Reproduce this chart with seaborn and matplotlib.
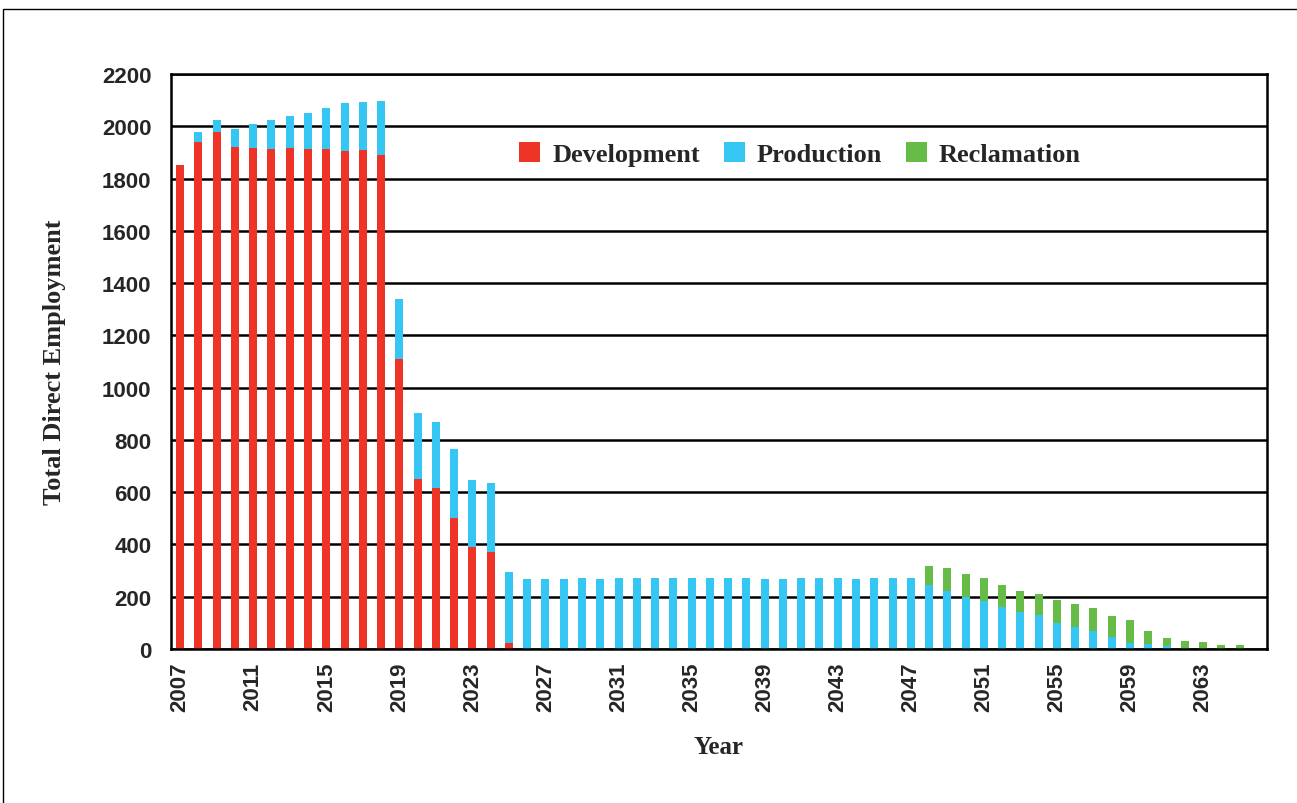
import pandas as pd
import matplotlib.pyplot as plt
import seaborn as sns
from matplotlib.patches import Patch, Rectangle

# values (employees per year)
years = list(range(2007, 2067))
development = [1852, 1940, 1978, 1921, 1918, 1913, 1918, 1912, 1913, 1906,
               1909, 1889, 1110, 650, 615, 500, 390, 370, 23, 0,
               0, 0, 0, 0, 0, 0, 0, 0, 0, 0,
               0, 0, 0, 0, 0, 0, 0, 0, 0, 0,
               0, 0, 0, 0, 0, 0, 0, 0, 0, 0,
               0, 0, 0, 0, 0, 0, 0, 0, 0, 0]
production = [0, 38, 47, 67, 91, 112, 122, 139, 157, 183,
              185, 208, 230, 254, 255, 265, 255, 267, 272, 267,
              267, 267, 271, 267, 271, 271, 271, 271, 271, 271,
              271, 271, 267, 267, 271, 271, 271, 267, 271, 271,
              271, 243, 223, 199, 183, 159, 143, 132, 100, 84,
              67, 47, 23, 19, 11, 0, 0, 0, 0, 0]
reclamation = [0, 0, 0, 0, 0, 0, 0, 0, 0, 0,
               0, 0, 0, 0, 0, 0, 0, 0, 0, 0,
               0, 0, 0, 0, 0, 0, 0, 0, 0, 0,
               0, 0, 0, 0, 0, 0, 0, 0, 0, 0,
               0, 76, 88, 88, 88, 84, 80, 79, 87, 87,
               88, 80, 88, 48, 32, 31, 27, 15, 15, 0]

series_names = ['Development', 'Production', 'Reclamation']
colors = {'Development': '#EE3327', 'Production': '#36C6F4', 'Reclamation': '#67BB47'}

df = pd.DataFrame({'Year': [str(y) for y in years],
                   'Development': development,
                   'Production': production,
                   'Reclamation': reclamation})
# cumulative heights for stacking
df['DevProd'] = df['Development'] + df['Production']
df['Total'] = df['DevProd'] + df['Reclamation']

sns.set_style('white')
plt.rcParams['font.family'] = ['Liberation Sans', 'DejaVu Sans']

fig = plt.figure(figsize=(12.97, 8.04), dpi=100)
ax = fig.add_axes([171 / 1297, 1 - 650 / 804, (1267 - 171) / 1297, (650 - 75) / 804])

order = df['Year'].tolist()
bar_kw = dict(x='Year', order=order, width=0.44, saturation=1, errorbar=None, ax=ax, linewidth=0)
sns.barplot(data=df, y='Total', color=colors['Reclamation'], **bar_kw)
sns.barplot(data=df, y='DevProd', color=colors['Production'], **bar_kw)
sns.barplot(data=df, y='Development', color=colors['Development'], **bar_kw)

ax.set_xlim(-0.5, len(years) - 0.5)
ax.set_ylim(0, 2200)
ax.set_yticks(range(0, 2201, 200))
ax.set_axisbelow(True)
ax.yaxis.grid(True, color='black', linewidth=1.8)
ax.xaxis.grid(False)

for s in ax.spines.values():
    s.set_color('black')
    s.set_linewidth(1.8)

# labels under every 4th bar, tick marks between bars
ax.set_xticks(range(0, len(years), 4))
ax.set_xticklabels([order[i] for i in range(0, len(years), 4)], rotation=90,
                   fontsize=16, fontweight='bold')
ax.set_xticks([i - 0.5 for i in range(len(years) + 1)], minor=True)
ax.tick_params(axis='x', which='major', length=0, pad=9)
ax.tick_params(axis='x', which='minor', length=9, width=1.8, color='black', direction='out')
ax.tick_params(axis='y', length=8, width=1.8, color='black', direction='out', pad=6,
               labelsize=16)
for lab in ax.get_yticklabels():
    lab.set_fontweight('bold')

ax.set_xlabel('Year', fontsize=18, fontweight='bold', family='Liberation Serif', labelpad=17)
ax.set_ylabel('Total Direct Employment', fontsize=19, fontweight='bold',
              family='Liberation Serif', labelpad=26)

handles = [Patch(facecolor=colors[n], edgecolor='none') for n in series_names]
ax.legend(handles, series_names, loc='center', bbox_to_anchor=(0.574, 0.861), ncol=3,
          frameon=False, handlelength=0.8, handleheight=0.8, handletextpad=0.45,
          columnspacing=0.9, prop={'family': 'Liberation Serif', 'weight': 'bold', 'size': 19})

# thin frame around the figure
fig.patches.append(Rectangle((3 / 1297, -0.02), 1.0, (804 - 10) / 804 + 0.02,
                             transform=fig.transFigure, fill=False,
                             edgecolor='black', linewidth=1))

fig.savefig('out.png', dpi=100)
